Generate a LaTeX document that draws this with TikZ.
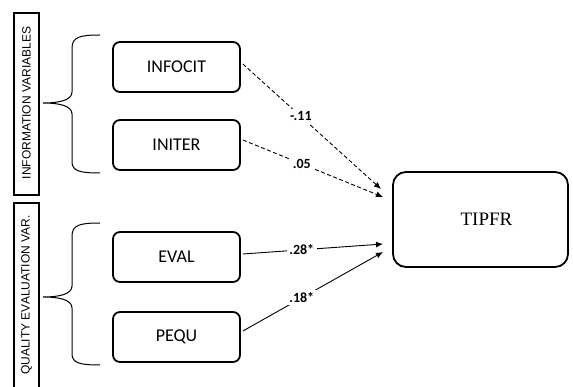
\documentclass[tikz,border=0pt]{standalone}
\usepackage{fontspec}
\setmainfont{Liberation Serif}
\newfontfamily\boxfont{Carlito}
\newfontfamily\sidefont{Liberation Sans}
\usetikzlibrary{arrows.meta}
\begin{document}
\begin{tikzpicture}[x=1pt,y=-1pt,
  varbox/.style={draw,line width=1.8pt,rounded corners=7pt,minimum width=127pt,minimum height=50pt,inner sep=0pt,font=\boxfont\fontsize{18}{20}\selectfont},
  bigbox/.style={draw,line width=1.8pt,rounded corners=13pt,minimum width=175pt,minimum height=95pt,inner sep=0pt,font=\fontsize{19}{21}\selectfont},
  sidetext/.style={rotate=90,font=\sidefont\fontsize{12}{13}\selectfont},
  path/.style={line width=0.9pt,-{Latex[length=7pt,width=6pt]}},
  dpath/.style={path,dash pattern=on 4pt off 2.5pt},
  coef/.style={fill=white,inner sep=2.5pt,font=\boxfont\bfseries\fontsize{14}{16}\selectfont},
  brace/.style={line width=1pt}]
\useasboundingbox (0,0) rectangle (573,387);
% side label boxes
\draw[line width=1.2pt] (14,13) rectangle (39,195);
\node[sidetext] (infolab) at (26.5,103) {INFORMATION VARIABLES};
\draw[line width=1.2pt] (14,392) |- (39,203) -- (39,392);
\node[sidetext] (quallab) at (26.5,295) {QUALITY EVALUATION VAR.};
% braces
\draw[brace] (100,35) .. controls (80,35) and (72,37) .. (72,48) -- (72,92)
  .. controls (72,100) and (60,103) .. (43,103)
  .. controls (60,103) and (72,106) .. (72,114) -- (72,162)
  .. controls (72,171) and (80,173) .. (100,173);
\draw[brace] (100,223) .. controls (80,223) and (72,225) .. (72,236) -- (72,286)
  .. controls (72,294) and (60,297) .. (43,297)
  .. controls (60,297) and (72,300) .. (72,308) -- (72,354)
  .. controls (72,363) and (80,365) .. (100,365);
% nodes
\node[varbox] (infocit) at (176.5,67) {INFOCIT};
\node[varbox] (initer) at (176.5,145) {INITER};
\node[varbox] (eval) at (176.5,257) {EVAL};
\node[varbox] (pequ) at (176.5,337) {PEQU};
\node[bigbox] (tipfr) at (480.5,219.5) {\hspace*{12pt}TIPFR};
% arrow ends
\coordinate (e1) at (381,189);
\coordinate (e2) at (383,197);
\coordinate (e3) at (383,244);
\coordinate (e4) at (383,252);
% paths
\draw[dpath] ([xshift=2pt,yshift=3pt]infocit.east) -- node[coef,pos=0.42] {-.11} (e1);
\draw[dpath] ([xshift=2pt,yshift=5pt]initer.east) -- node[coef,pos=0.42] {.05} (e2);
\draw[path] ([xshift=2pt,yshift=3pt]eval.east) -- node[coef,pos=0.42] {.28*} (e3);
\draw[path] ([xshift=2pt,yshift=6pt]pequ.east) -- node[coef,pos=0.42] {.18*} (e4);
\end{tikzpicture}
\end{document}
